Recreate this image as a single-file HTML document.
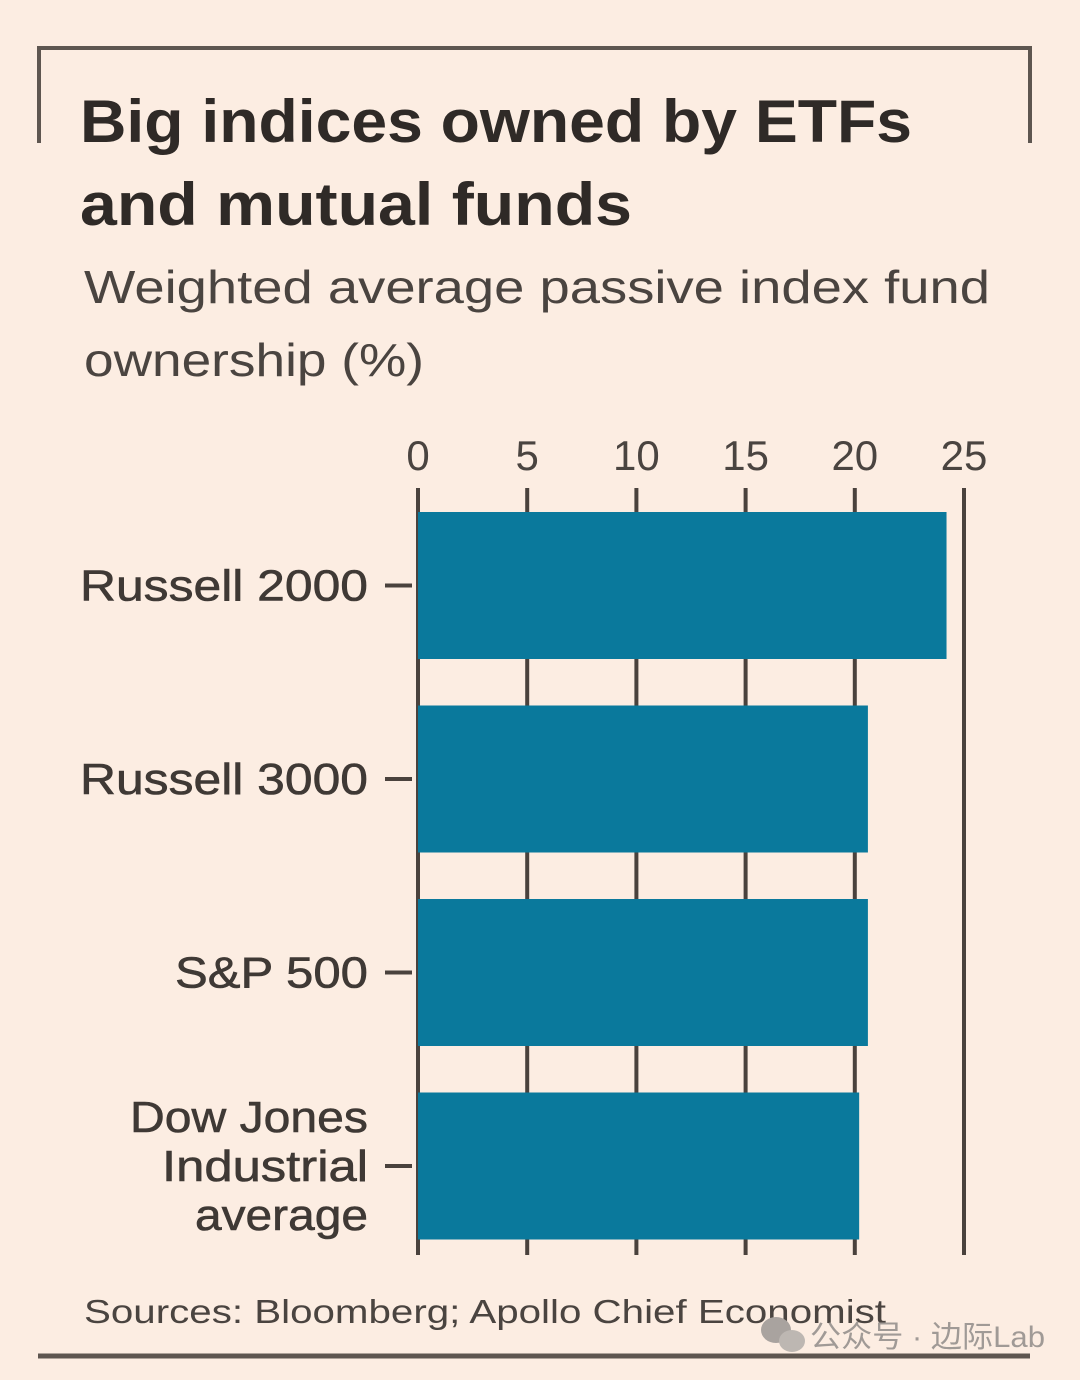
<!DOCTYPE html>
<html><head><meta charset="utf-8"><style>
html,body{margin:0;padding:0;background:#fcede2;}
svg{display:block;font-family:"Liberation Sans","Noto Sans CJK SC",sans-serif;}
</style></head><body>
<svg id="chart" width="1080" height="1380" viewBox="0 0 1080 1380">
<rect x="0" y="0" width="1080" height="1380" fill="#fcede2"/>
<path d="M39 143 V48 H1030 V143" fill="none" stroke="#5e5650" stroke-width="4"/>
<text x="80" y="142" font-size="60" font-weight="bold" fill="#2f2a27" textLength="832" lengthAdjust="spacingAndGlyphs">Big indices owned by ETFs</text>
<text x="80" y="225" font-size="60" font-weight="bold" fill="#2f2a27" textLength="552" lengthAdjust="spacingAndGlyphs">and mutual funds</text>
<text x="84" y="303" font-size="46" fill="#4a4440" textLength="906" lengthAdjust="spacingAndGlyphs">Weighted average passive index fund</text>
<text x="84" y="376" font-size="46" fill="#4a4440" textLength="340" lengthAdjust="spacingAndGlyphs">ownership (%)</text>
<g id="grid"></g><g id="bars"></g><g id="labels"></g>
<text x="84" y="1323" font-size="33" fill="#4a4440" textLength="802" lengthAdjust="spacingAndGlyphs">Sources: Bloomberg; Apollo Chief Economist</text>
<path d="M38 1356 H1030" stroke="#5e5650" stroke-width="5"/>
<g>
<ellipse cx="776" cy="1330" rx="15" ry="13" fill="#a9a39f"/><ellipse cx="792" cy="1341" rx="13" ry="11" fill="#bdb7b2"/>
<text x="810" y="1347" font-size="30" fill="#a09a96" textLength="235" lengthAdjust="spacingAndGlyphs">公众号 · 边际Lab</text></g>
</svg>
<script>
const categories=["Russell 2000","Russell 3000","S&P 500","Dow Jones Industrial average"];
const values=[24.2,20.6,20.6,20.2];
const ticks=[0,5,10,15,20,25];
const NS="http://www.w3.org/2000/svg";
const x0=418,x1=964,xmax=25;
function xs(v){return x0+(x1-x0)*v/xmax;}
const bandTop=502,band=193.5,barH=147,barOff=10;
const labelWidths={"Russell 2000":288,"Russell 3000":288,"S&P 500":193,"Dow Jones":238,"Industrial":206,"average":173};
function el(t,a,p){const e=document.createElementNS(NS,t);for(const k in a)e.setAttribute(k,a[k]);p.appendChild(e);return e;}
const grid=document.getElementById('grid'),bars=document.getElementById('bars'),labels=document.getElementById('labels');
ticks.forEach((t,i)=>{
 const l=el('line',{x1:xs(t),x2:xs(t),y1:488,y2:1255,stroke:'#4a423d','stroke-width':4},grid);
 
 
 const tx=el('text',{x:xs(t),y:470,'font-size':42,fill:'#4a4440','text-anchor':'middle'},grid);
 tx.textContent=t;
 
 
});
categories.forEach((c,i)=>{
 const y=bandTop+i*band+barOff;
 const r=el('rect',{x:x0,y:y,width:xs(values[i])-x0,height:barH,fill:'#0a799c'},bars);
 
 
 const cy=y+barH/2;
 const tk=el('line',{x1:385,x2:412,y1:cy,y2:cy,stroke:'#4a423d','stroke-width':4},labels);
 
 
 const lines=c.startsWith("Dow")?["Dow Jones","Industrial","average"]:[c];
 const g=el('g',{},labels);
 
 
 lines.forEach((s,j)=>{
  const w=labelWidths[s]||200;
  const ts=el('text',{x:368-w,y:cy+15+(j-(lines.length-1)/2)*49,'font-size':44,fill:'#3f3935','stroke':'#3f3935','stroke-width':0.6,textLength:w,lengthAdjust:'spacingAndGlyphs'},g);
  ts.textContent=s;
 });
});
</script>
</body></html>
